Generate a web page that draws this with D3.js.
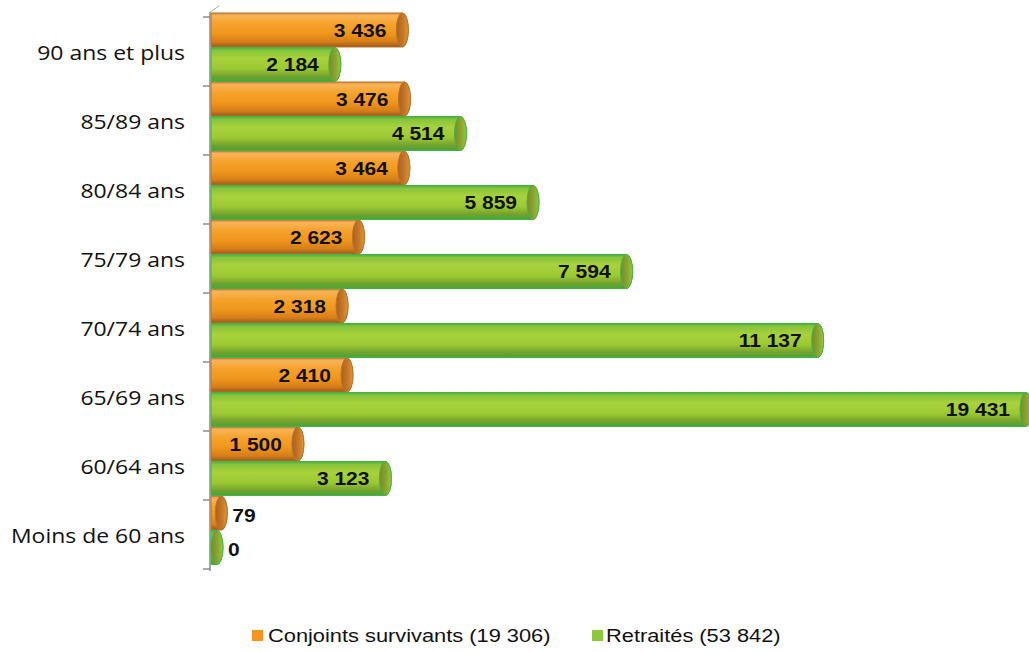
<!DOCTYPE html>
<html>
<head>
<meta charset="utf-8">
<script src="https://cdn.jsdelivr.net/npm/d3@7"></script>
<style>
  html, body { margin: 0; padding: 0; background: #ffffff; }
  svg { display: block; }
</style>
</head>
<body>
<svg id="chart" width="1029" height="652"></svg>
<script>
// Age groups, top to bottom
const categories = ["90 ans et plus", "85/89 ans", "80/84 ans", "75/79 ans", "70/74 ans", "65/69 ans", "60/64 ans", "Moins de 60 ans"];
// Survivors (orange) and retirees (green) per age group
const conjoints = [3436, 3476, 3464, 2623, 2318, 2410, 1500, 79];
const retraites = [2184, 4514, 5859, 7594, 11137, 19431, 3123, 0];
const seriesNames = ["Conjoints survivants (19 306)", "Retraités (53 842)"];
const seriesKeys = ["conjoints", "retraites"];
const xMax = 15000;

const svg = d3.select("#chart");
const defs = svg.append("defs");

// Cylinder shading: body gradients (vertical) and end-face gradients (horizontal)
function vGrad(id, stops) {
  const g = defs.append("linearGradient").attr("id", id)
    .attr("x1", 0).attr("y1", 0).attr("x2", 0).attr("y2", 1);
  stops.forEach(s => g.append("stop").attr("offset", s[0]).attr("stop-color", s[1]));
}
function hGrad(id, stops) {
  const g = defs.append("linearGradient").attr("id", id)
    .attr("x1", 0).attr("y1", 0).attr("x2", 1).attr("y2", 0);
  stops.forEach(s => g.append("stop").attr("offset", s[0]).attr("stop-color", s[1]));
}
vGrad("bodyOrange", [["0%", "#d98b35"], ["8%", "#f8b45a"], ["30%", "#f6a32e"], ["60%", "#f0961c"], ["85%", "#d67d18"], ["100%", "#9a5a1c"]]);
vGrad("bodyGreen", [["0%", "#3fae42"], ["8%", "#86c33c"], ["32%", "#a9d23b"], ["62%", "#9bc934"], ["86%", "#73a02b"], ["100%", "#3da83e"]]);
hGrad("capOrange", [["0%", "#a9601f"], ["60%", "#c97a28"], ["100%", "#e39536"]]);
hGrad("capGreen", [["0%", "#768a2a"], ["60%", "#8aa931"], ["100%", "#9bc83a"]]);

const fill = { conjoints: "url(#bodyOrange)", retraites: "url(#bodyGreen)" };
const capFill = { conjoints: "url(#capOrange)", retraites: "url(#capGreen)" };
const rim = { conjoints: "#b9742c", retraites: "#46b346" };
const swatch = { conjoints: "#f7941d", retraites: "#8dc63f" };

const y = d3.scaleBand().domain(categories).range([17, 569]);
const ySeries = d3.scaleBand().domain(seriesKeys).range([-4, 65]);
const x = d3.scaleLinear().domain([0, xMax]).range([217, 1026]).clamp(true);

const fr = d3.formatLocale({ decimal: ",", thousands: " ", grouping: [3], currency: ["", " €"] });
const fmt = fr.format(",d");

const rows = categories.map((c, i) => ({ cat: c, conjoints: conjoints[i], retraites: retraites[i] }));
const barX0 = 211;
const capRx = 6;

// Axis line with tick marks at the group boundaries
const axisG = svg.append("g");
axisG.append("line")
  .attr("x1", 210).attr("x2", 210).attr("y1", 12).attr("y2", 571)
  .attr("stroke", "#8c8c8c").attr("stroke-width", 1.5);
axisG.append("line")
  .attr("x1", 210).attr("x2", 219).attr("y1", 12).attr("y2", 6)
  .attr("stroke", "#b0b0b0").attr("stroke-width", 1);
const boundaries = categories.map(c => y(c)).concat([y.range()[1]]);
axisG.selectAll("line.tick").data(boundaries).join("line")
  .attr("class", "tick")
  .attr("x1", 203).attr("x2", 210)
  .attr("y1", d => d).attr("y2", d => d)
  .attr("stroke", "#8c8c8c").attr("stroke-width", 1.5);

// Category labels (right-aligned, widened face)
const catG = svg.append("g");
catG.selectAll("text").data(categories).join("text")
  .attr("transform", d => `translate(185,${y(d) + y.bandwidth() / 2}) scale(1.12,1)`)
  .attr("text-anchor", "end")
  .attr("dominant-baseline", "central")
  .attr("font-family", "'Open Sans', sans-serif")
  .attr("font-size", 20.5)
  .attr("fill", "#111")
  .text(d => d);

// Cylinder bars
const barsG = svg.append("g");
seriesKeys.forEach(key => {
  const g = barsG.append("g");
  const bars = g.selectAll("g.bar").data(rows).join("g").attr("class", "bar");
  bars.each(function (d) {
    const sel = d3.select(this);
    const y0 = y(d.cat) + ySeries(key);
    const h = ySeries.bandwidth() - 0.5;
    const cx = x(d[key]);
    const ry = h / 2;
    sel.append("path")
      .attr("d", `M${barX0},${y0} L${cx},${y0} A${capRx},${ry} 0 0 1 ${cx},${y0 + h} L${barX0},${y0 + h} Z`)
      .attr("fill", fill[key])
      .attr("stroke", rim[key]).attr("stroke-width", 1);
    sel.append("ellipse")
      .attr("cx", cx).attr("cy", y0 + ry)
      .attr("rx", capRx).attr("ry", ry)
      .attr("fill", capFill[key])
      .attr("stroke", rim[key]).attr("stroke-width", 1);

    const inside = cx - barX0 > 70;
    sel.append("text")
      .attr("transform", inside
        ? `translate(${cx - 16},${y0 + ry + 1}) scale(1.2,1)`
        : `translate(${cx + 11},${y0 + ry + 3}) scale(1.2,1)`)
      .attr("text-anchor", inside ? "end" : "start")
      .attr("dominant-baseline", "central")
      .attr("font-family", "'Liberation Sans', Arial, sans-serif")
      .attr("font-weight", "bold")
      .attr("font-size", 17.5)
      .attr("fill", "#111")
      .text(fmt(d[key]));
  });
});

// Legend
const legendItems = [
  { key: "conjoints", label: seriesNames[0], sx: 252, tx: 268 },
  { key: "retraites", label: seriesNames[1], sx: 592, tx: 606 }
];
const legG = svg.append("g");
const leg = legG.selectAll("g").data(legendItems).join("g");
leg.append("rect")
  .attr("x", d => d.sx).attr("y", 630)
  .attr("width", 11).attr("height", 11)
  .attr("fill", d => swatch[d.key]);
leg.append("text")
  .attr("transform", d => `translate(${d.tx},636) scale(1.18,1)`)
  .attr("dominant-baseline", "central")
  .attr("font-family", "'Liberation Sans', Arial, sans-serif")
  .attr("font-size", 18.5)
  .attr("fill", "#111")
  .text(d => d.label);
</script>
</body>
</html>
